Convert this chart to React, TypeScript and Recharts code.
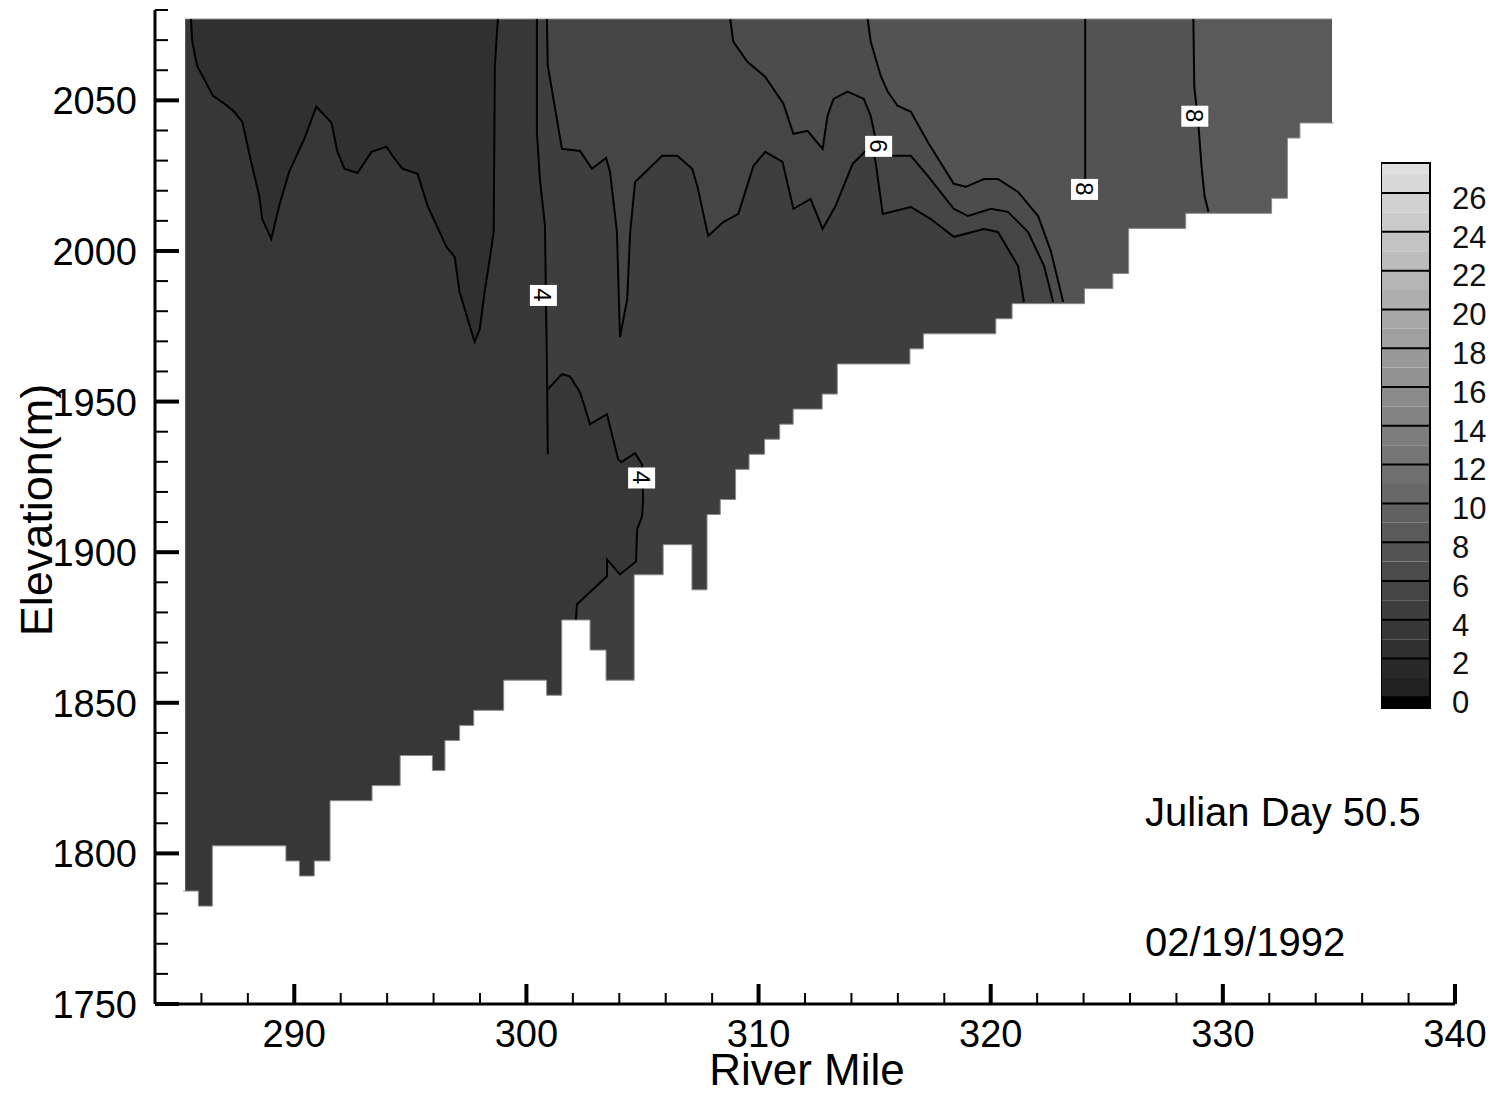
import React from "react";
import { ComposedChart, Area, Line, Scatter, XAxis, YAxis, ReferenceLine } from "recharts";

const FONT = '"Liberation Sans", Arial, Helvetica, sans-serif';

// axis ticks (river mile / elevation m)
const xTicks = [286, 288, 290, 292, 294, 296, 298, 300, 302, 304, 306, 308, 310, 312, 314, 316, 318, 320, 322, 324, 326, 328, 330, 332, 334, 336, 338, 340];
const yTicks = [1750, 1760, 1770, 1780, 1790, 1800, 1810, 1820, 1830, 1840, 1850, 1860, 1870, 1880, 1890, 1900, 1910, 1920, 1930, 1940, 1950, 1960, 1970, 1980, 1990, 2000, 2010, 2020, 2030, 2040, 2050, 2060, 2070, 2080];

const SURFACE = 2077; // water surface elevation
const FLOOR = 1760; // regions are drawn down to here, the bed mask cuts them
const RIGHT_EDGE = 334.69;

// bed profile: start mile of each cell and its bottom elevation
const bedMile = [285.3, 285.87, 286.47, 289.64, 290.22, 290.86, 291.54, 293.35, 294.56, 295.95, 296.49, 297.12, 297.73, 299.02, 300.87, 301.52, 302.74, 303.43, 304.64, 305.89, 307.13, 307.78, 308.35, 309.01, 309.59, 310.26, 310.91, 311.49, 312.74, 313.39, 316.52, 317.1, 320.22, 320.92, 324.04, 325.26, 325.94, 328.4, 332.1, 332.78, 333.32];
const bedElev = [1787.5, 1782.5, 1802.5, 1797.5, 1792.5, 1797.5, 1817.5, 1822.5, 1832.5, 1827.5, 1837.5, 1842.5, 1847.5, 1857.5, 1852.5, 1877.5, 1867.5, 1857.5, 1892.5, 1902.5, 1887.5, 1912.5, 1917.5, 1927.5, 1932.5, 1937.5, 1942.5, 1947.5, 1952.5, 1962.5, 1967.5, 1972.5, 1977.5, 1982.5, 1987.5, 1992.5, 2007.5, 2012.5, 2017.5, 2037.5, 2042.5];

// contour lines [mile, elevation]
const contour3 = [[285.55, 2077], [285.6, 2069.8], [285.81, 2061.5], [286.11, 2057.2], [286.5, 2051.5], [287.06, 2048.5], [287.41, 2046.2], [287.76, 2042.9], [288.14, 2029.6], [288.49, 2018.3], [288.62, 2010.6], [289.01, 2004.0], [289.35, 2015.0], [289.78, 2026.3], [290.43, 2037.2], [290.95, 2047.9], [291.6, 2042.6], [291.86, 2032.9], [292.16, 2027.3], [292.72, 2025.9], [293.33, 2032.9], [293.97, 2034.6], [294.23, 2031.6], [294.66, 2027.3], [295.31, 2025.6], [295.74, 2015.0], [296.56, 2001.3], [296.91, 1998.0], [297.12, 1986.4], [297.77, 1969.8], [297.99, 1974.1], [298.2, 1986.4], [298.42, 1997.3], [298.59, 2006.3], [298.64, 2061.5], [298.77, 2077]];
const contour4a = [[300.45, 2077], [300.45, 2039.6], [300.58, 2023.9], [300.8, 2008.3], [300.84, 1984.0], [300.88, 1964.1], [300.92, 1932.5]];
const contour4b = [[300.92, 1954.1], [301.53, 1959.1], [301.87, 1958.4], [302.31, 1953.1], [302.74, 1942.5], [303.47, 1945.8], [303.95, 1930.9], [304.08, 1929.9], [304.68, 1932.9], [304.98, 1929.2], [305.03, 1917.6], [304.98, 1911.9], [304.77, 1907.6], [304.72, 1896.9], [304.03, 1892.6], [303.47, 1897.6], [303.47, 1892.0], [302.18, 1882.7], [302.13, 1877.7]];
const contour5 = [[300.88, 2077], [300.92, 2061.5], [301.53, 2033.9], [302.31, 2033.2], [302.82, 2027.3], [303.43, 2030.9], [303.6, 2026.3], [303.9, 2006.3], [304.03, 1971.4], [304.34, 1984.0], [304.47, 2006.3], [304.68, 2022.9], [305.85, 2031.6], [306.5, 2031.6], [307.14, 2027.3], [307.36, 2021.6], [307.83, 2005.0], [308.48, 2009.6], [309.13, 2012.3], [309.78, 2028.3], [310.29, 2032.9], [311.03, 2029.6], [311.5, 2014.0], [312.24, 2017.3], [312.76, 2007.3], [313.32, 2015.0], [314.05, 2028.9], [314.61, 2033.2], [314.91, 2033.9], [315.04, 2029.6], [315.35, 2012.3], [316.56, 2014.6], [317.42, 2010.6], [318.41, 2004.7], [319.71, 2007.3], [320.31, 2006.3], [321.18, 1995.0], [321.43, 1983.1]];
const contour6 = [[308.78, 2077], [308.91, 2069.5], [309.52, 2062.8], [310.29, 2057.8], [311.07, 2048.9], [311.5, 2038.9], [312.11, 2039.9], [312.76, 2033.9], [312.97, 2044.9], [313.23, 2050.5], [313.83, 2052.9], [314.53, 2050.5], [314.83, 2044.9], [315.04, 2037.2], [315.26, 2033.2], [315.69, 2031.6], [316.56, 2031.6], [317.29, 2024.9], [318.41, 2014.0], [319.02, 2011.6], [320.01, 2014.0], [320.74, 2013.0], [321.61, 2006.3], [322.3, 1995.0], [322.69, 1983.1]];
const contour7 = [[314.7, 2077], [314.83, 2069.5], [315.26, 2058.2], [315.56, 2052.9], [315.99, 2048.2], [316.56, 2046.2], [317.29, 2036.2], [318.41, 2022.3], [318.93, 2021.3], [319.71, 2023.9], [320.31, 2023.9], [321.18, 2019.6], [322.04, 2011.6], [322.6, 1999.7], [323.12, 1983.1]];
const contour8a = [[324.07, 2077], [324.07, 2023.9]];
const contour8b = [[328.73, 2077], [328.77, 2054.5], [328.95, 2041.6], [329.08, 2028.3], [329.21, 2018.3], [329.38, 2013.0]];

const contourLabels = [
  { x: 300.71, y: 1985.4, text: "4" },
  { x: 304.94, y: 1924.8, text: "4" },
  { x: 315.15, y: 2034.9, text: "6" },
  { x: 324.02, y: 2020.6, text: "8" },
  { x: 328.77, y: 2044.9, text: "8" },
];

// colour legend
const cbEdges = [-0.3, 0.25, 1.25, 2.25, 3.25, 4.25, 5.25, 6.25, 7.25, 8.25, 9.25, 10.25, 11.25, 12.25, 13.25, 14.25, 15.25, 16.25, 17.25, 18.25, 19.25, 20.25, 21.25, 22.25, 23.25, 24.25, 25.25, 26.25, 27.25, 27.8];
const cbSeparators = [0.25, 2.25, 4.25, 6.25, 8.25, 10.25, 12.25, 14.25, 16.25, 18.25, 20.25, 22.25, 24.25, 26.25];
const cbTicks = [0, 2, 4, 6, 8, 10, 12, 14, 16, 18, 20, 22, 24, 26];
const CB_MIN = -0.3;
const CB_MAX = 27.8;

const grey = (level: number) => {
  if (level < 0) return "#000";
  const v = Math.round(34 + 7 * level);
  return `rgb(${v},${v},${v})`;
};

const pts = (a: number[][]) => a.map(([x, y]) => ({ x, y }));
const toFloor = (x: number) => [{ x, y: FLOOR }, { x: RIGHT_EDGE, y: FLOOR }];

// mask under the bed; ends pushed a hair past the domain so no fill edge bleeds through
const bedData = [
  { x: bedMile[0] - 0.08, y: bedElev[0] },
  ...bedMile.slice(1).map((x, i) => ({ x, y: bedElev[i + 1] })),
  { x: RIGHT_EDGE + 0.08, y: bedElev[bedElev.length - 1] },
];

const regionB = [{ x: bedMile[0], y: FLOOR }, { x: RIGHT_EDGE, y: FLOOR }];
const regionA = pts(contour3);
const regionC = [...pts(contour4a.slice(0, 6)), ...pts(contour4b.slice(0, 11)), ...toFloor(305.04)];
const regionCLow = pts(contour4b.slice(10).reverse());
const regionD = [...pts(contour5), ...toFloor(321.44)];
const regionE = [...pts(contour6), ...toFloor(322.7)];
const regionF = [...pts(contour7), ...toFloor(323.13)];
const regionG = [...pts(contour8b), ...toFloor(329.39)];

const XTick = (props: any) => {
  const { x, y, payload } = props;
  const v = payload.value;
  const major = v % 10 === 0;
  return (
    <g>
      <line x1={x} x2={x} y1={y} y2={y - (major ? 20 : 11)} stroke="#000" strokeWidth={major ? 4 : 2} />
      {major && (
        <text x={x} y={y + 43} textAnchor="middle" fontSize={38} fontFamily={FONT} fill="#000">
          {v}
        </text>
      )}
    </g>
  );
};

const YTick = (props: any) => {
  const { x, y, payload } = props;
  const v = payload.value;
  const major = v % 50 === 0;
  return (
    <g>
      <line x1={x} x2={x + (major ? 24 : 13)} y1={y} y2={y} stroke="#000" strokeWidth={major ? 4 : 2} />
      {major && (
        <text x={x - 18} y={y + 14} textAnchor="end" fontSize={38} fontFamily={FONT} fill="#000">
          {v}
        </text>
      )}
    </g>
  );
};

const CbTick = (props: any) => {
  const { x, y, payload } = props;
  return (
    <text x={x + 22} y={y + 11} textAnchor="start" fontSize={31} fontFamily={FONT} fill="#111">
      {payload.value}
    </text>
  );
};

const LabelBox = (props: any) => {
  const { cx, cy, payload } = props;
  return (
    <g>
      <rect x={cx - 13} y={cy - 10} width={27} height={21} fill="#fff" />
      <text x={cx} y={cy} transform={`rotate(90 ${cx} ${cy})`} textAnchor="middle" dominantBaseline="central" fontSize={24} fontFamily={FONT} fill="#000">
        {payload.text}
      </text>
    </g>
  );
};

const region = (data: any[], level: number, base: number, key: string) => (
  <Area key={key} data={data} dataKey="y" type="linear" baseValue={base} fill={grey(level)} fillOpacity={1} stroke="none" isAnimationActive={false} />
);

const contourLine = (data: number[][], key: string) => (
  <Line key={key} data={pts(data)} dataKey="y" type="linear" stroke="#000" strokeWidth={2} dot={false} isAnimationActive={false} />
);

export default function App() {
  return (
    <div style={{ position: "fixed", left: 0, top: 0, width: 1494, height: 1095, background: "#fff", fontFamily: FONT }}>
      <ComposedChart width={1494} height={1095} margin={{ top: 10, right: 39, bottom: 31, left: 55 }}>
        <XAxis type="number" dataKey="x" domain={[284, 340]} ticks={xTicks} interval={0} tick={<XTick />} tickLine={false} tickSize={0} tickMargin={0} axisLine={{ stroke: "#000", strokeWidth: 3 }} height={60} />
        <YAxis type="number" dataKey="y" domain={[1750, 2080]} ticks={yTicks} interval={0} tick={<YTick />} tickLine={false} tickSize={0} tickMargin={0} axisLine={{ stroke: "#000", strokeWidth: 3 }} width={100} />
        {region(regionB, 3, SURFACE, "b")}
        {region(regionA, 2, SURFACE, "a")}
        {region(regionC, 4, SURFACE, "c")}
        {region(regionCLow, 4, FLOOR, "c2")}
        {region(regionD, 5, SURFACE, "d")}
        {region(regionE, 6, SURFACE, "e")}
        {region(regionF, 7, SURFACE, "f")}
        {region(regionG, 8, SURFACE, "g")}
        <Area data={bedData} dataKey="y" type="stepAfter" baseValue={1755} fill="#fff" fillOpacity={1} stroke="#8a8a8a" strokeWidth={1} isAnimationActive={false} />
        <ReferenceLine segment={[{ x: bedMile[0], y: SURFACE }, { x: RIGHT_EDGE, y: SURFACE }]} stroke="#8a8a8a" strokeWidth={1} />
        {contourLine(contour3, "l3")}
        {contourLine(contour4a, "l4a")}
        {contourLine(contour4b, "l4b")}
        {contourLine(contour5, "l5")}
        {contourLine(contour6, "l6")}
        {contourLine(contour7, "l7")}
        {contourLine(contour8a, "l8a")}
        {contourLine(contour8b, "l8b")}
        <Scatter data={contourLabels} shape={<LabelBox />} isAnimationActive={false} />
      </ComposedChart>

      <div style={{ position: "absolute", left: 1381, top: 153 }}>
        <ComposedChart width={113} height={575} margin={{ top: 10, right: 0, bottom: 20, left: 0 }}>
          <XAxis type="number" dataKey="x" domain={[0, 1]} hide height={0} />
          <YAxis type="number" dataKey="y" orientation="right" domain={[CB_MIN, CB_MAX]} ticks={cbTicks} interval={0} tick={<CbTick />} tickLine={false} tickSize={0} tickMargin={0} axisLine={false} width={64} />
          {cbEdges.slice(0, -1).map((lo, i) => (
            <Area
              key={`cb${i}`}
              data={[{ x: 0, y: cbEdges[i + 1] }, { x: 1, y: cbEdges[i + 1] }]}
              dataKey="y"
              baseValue={lo}
              fill={grey(i - 1)}
              fillOpacity={1}
              stroke="none"
              isAnimationActive={false}
            />
          ))}
          {cbSeparators.map((v) => (
            <Line key={`s${v}`} data={[{ x: 0, y: v }, { x: 1, y: v }]} dataKey="y" stroke="#000" strokeWidth={2} dot={false} isAnimationActive={false} />
          ))}
          <Line
            data={[{ x: 0, y: CB_MIN }, { x: 1, y: CB_MIN }, { x: 1, y: CB_MAX }, { x: 0, y: CB_MAX }, { x: 0, y: CB_MIN }]}
            dataKey="y"
            stroke="#000"
            strokeWidth={2}
            dot={false}
            isAnimationActive={false}
          />
        </ComposedChart>
      </div>

      <svg width={1494} height={1095} style={{ position: "absolute", left: 0, top: 0, pointerEvents: "none" }}>
        <text x={807} y={1085} textAnchor="middle" fontSize={44} fontFamily={FONT} fill="#000">
          River Mile
        </text>
        <text x={52} y={510} transform="rotate(-90 52 510)" textAnchor="middle" fontSize={45} fontFamily={FONT} fill="#000">
          Elevation(m)
        </text>
        <text x={1145} y={826} fontSize={40} fontFamily={FONT} fill="#000">
          Julian Day 50.5
        </text>
        <text x={1145} y={956} fontSize={40} fontFamily={FONT} fill="#000">
          02/19/1992
        </text>
      </svg>
    </div>
  );
}
